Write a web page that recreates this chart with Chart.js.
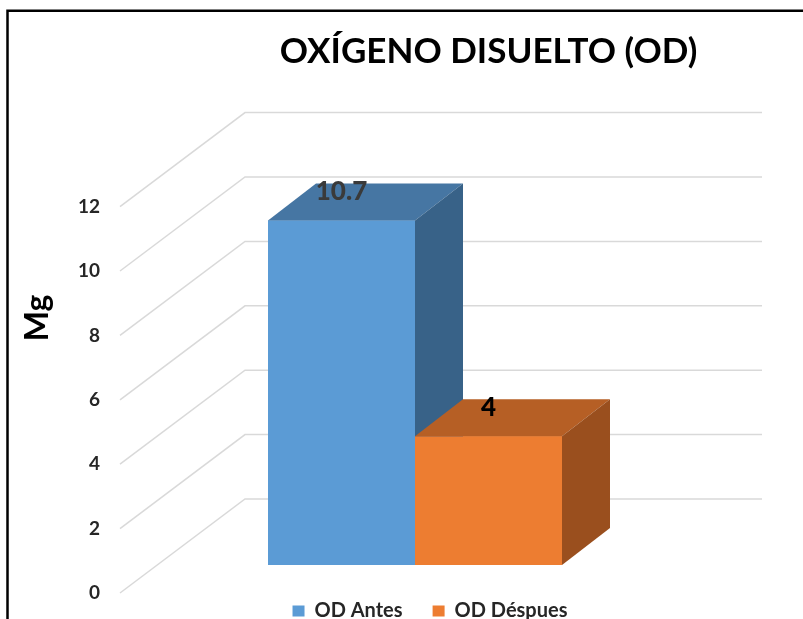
<!DOCTYPE html>
<html>
<head>
<meta charset="utf-8">
<script src="https://cdn.jsdelivr.net/npm/chart.js@4.4.0/dist/chart.umd.min.js"></script>
<style>
  html, body { margin: 0; padding: 0; background: #fff; }
</style>
</head>
<body>
<canvas id="odChart" width="803" height="619"></canvas>
<script>
// data
const chartTitle = 'OXÍGENO DISUELTO (OD)';
const axisTitle = 'Mg';
const categories = [''];
const seriesNames = ['OD Antes', 'OD Déspues'];
const seriesValues = [10.7, 4];
const yTicks = [0, 2, 4, 6, 8, 10, 12];

// look of the fake 3D
const frontColors = ['#5B9BD5', '#ED7D31'];
const topColors = ['#4676A3', '#B65F25'];
const sideColors = ['#386288', '#9A4F1E'];
const labelColors = ['#3a3a3a', '#000000'];
const DEPTH_X = 48, DEPTH_Y = -37;
const FRONT_DROP = 28, BACK_RISE = 66;
const WALL_X0 = 120, WALL_X1 = 245, WALL_X2 = 762;
const FONT = 'Lato, "Open Sans", sans-serif';

const datasets = seriesNames.map((name, i) => ({
    label: name,
    data: [seriesValues[i]],
    backgroundColor: frontColors[i],
    borderWidth: 0
}));
// empty slot on the right so the group sits left of the plot centre
datasets.push({ label: '', data: [null], backgroundColor: 'transparent' });

const framePlugin = {
    id: 'frame',
    beforeDraw(chart) {
        const ctx = chart.ctx;
        ctx.save();
        ctx.fillStyle = '#fff';
        ctx.fillRect(0, 0, chart.width, chart.height);
        ctx.strokeStyle = '#000';
        ctx.lineWidth = 2.5;
        ctx.beginPath();
        ctx.moveTo(7.5, chart.height + 5);
        ctx.lineTo(7.5, 10.8);
        ctx.lineTo(chart.width + 5, 10.8);
        ctx.stroke();
        ctx.restore();
    }
};

const wallPlugin = {
    id: 'wall',
    beforeDatasetsDraw(chart) {
        const ctx = chart.ctx;
        const y = chart.scales.y;
        ctx.save();
        ctx.strokeStyle = '#d9d9d9';
        ctx.lineWidth = 1.5;
        yTicks.forEach(v => {
            const py = y.getPixelForValue(v);
            ctx.beginPath();
            ctx.moveTo(WALL_X0, py + FRONT_DROP);
            ctx.lineTo(WALL_X1, py - BACK_RISE);
            ctx.lineTo(WALL_X2, py - BACK_RISE);
            ctx.stroke();
        });
        // axis title
        ctx.translate(38, 318);
        ctx.rotate(-Math.PI / 2);
        ctx.fillStyle = '#000';
        ctx.font = 'bold 32px ' + FONT;
        ctx.textAlign = 'center';
        ctx.textBaseline = 'middle';
        ctx.fillText(axisTitle, 0, 0);
        ctx.restore();
    }
};

const bars3dPlugin = {
    id: 'bars3d',
    afterDatasetsDraw(chart) {
        const ctx = chart.ctx;
        const tops = [];
        seriesNames.forEach((name, i) => {
            const bar = chart.getDatasetMeta(i).data[0];
            const p = bar.getProps(['x', 'y', 'base', 'width'], true);
            const l = p.x - p.width / 2, r = p.x + p.width / 2;
            bar.draw(ctx);
            ctx.save();
            ctx.fillStyle = topColors[i];
            ctx.beginPath();
            ctx.moveTo(l, p.y);
            ctx.lineTo(l + DEPTH_X, p.y + DEPTH_Y);
            ctx.lineTo(r + DEPTH_X, p.y + DEPTH_Y);
            ctx.lineTo(r, p.y);
            ctx.closePath();
            ctx.fill();
            ctx.fillStyle = sideColors[i];
            ctx.beginPath();
            ctx.moveTo(r, p.y);
            ctx.lineTo(r + DEPTH_X, p.y + DEPTH_Y);
            ctx.lineTo(r + DEPTH_X, p.base + DEPTH_Y);
            ctx.lineTo(r, p.base);
            ctx.closePath();
            ctx.fill();
            ctx.restore();
            tops.push(p);
        });
        // value labels
        ctx.save();
        ctx.font = '900 26px ' + FONT;
        ctx.textAlign = 'center';
        ctx.textBaseline = 'middle';
        tops.forEach((p, i) => {
            ctx.fillStyle = labelColors[i];
            ctx.fillText(String(seriesValues[i]), p.x, p.y - 29);
        });
        ctx.restore();
    }
};

new Chart(document.getElementById('odChart'), {
    type: 'bar',
    data: { labels: categories, datasets: datasets },
    options: {
        responsive: false,
        animation: false,
        devicePixelRatio: 1,
        events: [],
        layout: { padding: { left: 57, right: 0, top: 0, bottom: 0 } },
        datasets: {
            bar: { barPercentage: 1, categoryPercentage: 441 / 629 }
        },
        scales: {
            x: {
                display: true,
                ticks: { display: false },
                grid: { display: false },
                border: { display: false },
                afterFit: s => { s.height = 6; }
            },
            y: {
                min: 0,
                max: 12,
                afterBuildTicks: s => { s.ticks = yTicks.map(v => ({ value: v })); },
                afterFit: s => {
                    s.width = 117;
                    // the wide label gap should not push the plot area up
                    s.paddingTop = 0;
                    s.paddingBottom = 0;
                },
                grid: { display: false },
                border: { display: false },
                ticks: {
                    labelOffset: FRONT_DROP,
                    padding: 66,
                    color: '#262626',
                    font: { family: FONT, size: 19, weight: 'bold' }
                }
            }
        },
        plugins: {
            title: {
                display: true,
                text: chartTitle,
                fullSize: false,
                color: '#000',
                padding: { top: 31, bottom: 105.6 },
                font: { family: FONT, size: 35, weight: 'bold' }
            },
            legend: {
                position: 'bottom',
                fullSize: true,
                maxHeight: 48,
                labels: {
                    boxWidth: 12,
                    boxHeight: 11,
                    padding: 30,
                    color: '#262626',
                    font: { family: FONT, size: 20, weight: 'bold' },
                    filter: item => item.datasetIndex < seriesNames.length
                }
            },
            tooltip: { enabled: false }
        }
    },
    plugins: [framePlugin, wallPlugin, bars3dPlugin]
});
</script>
</body>
</html>
